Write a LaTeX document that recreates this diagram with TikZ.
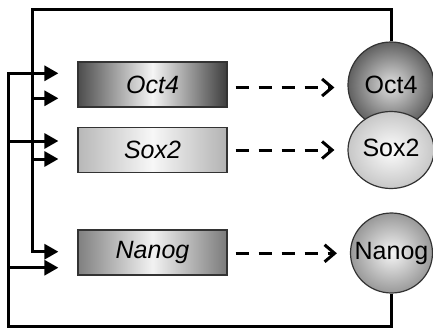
\documentclass[tikz,border=0pt]{standalone}
\usepackage{fontspec}
\setmainfont{Liberation Sans}
\usetikzlibrary{arrows.meta,shapes.geometric,calc}

\tikzset{
  genebox/.style={draw=black!80, line width=1.2pt, rectangle,
    minimum width=149pt, minimum height=45pt, inner sep=0pt,
    font=\fontsize{25}{28}\selectfont\itshape},
  protein/.style={draw=black!80, line width=1.2pt, ellipse, inner sep=0pt},
  plabel/.style={font=\fontsize{25}{28}\selectfont},
  feed/.style={line width=3pt, -{Triangle[length=14pt,width=15pt]}},
  flow/.style={line width=3pt, dash pattern=on 13pt off 10pt,
    -{Straight Barb[length=10pt,width=17pt]}, shorten <=8pt, shorten >=13pt},
}

\begin{document}
\begin{tikzpicture}[x=1pt,y=-1pt]
\useasboundingbox (0,0) rectangle (433,329);

% gene boxes (middle color must come last)
\node[genebox, left color=black!70, right color=black!76, middle color=black!4]
  (oct4b) at (152.5,84.5) {Oct4};
\node[genebox, left color=black!28, right color=black!30, middle color=black!3]
  (sox2b) at (152.5,150) {Sox2};
\node[genebox, left color=black!50, right color=black!52, middle color=black!5]
  (nanogb) at (152.5,252.5) {Nanog};

% proteins
\node[protein, minimum width=86pt, minimum height=86pt,
      inner color=black!12, outer color=black!62,
      label={[plabel]center:Oct4}] (oct4c) at (391,85) {};
\node[protein, minimum width=86pt, minimum height=77pt,
      inner color=black!1, outer color=black!22,
      label={[plabel,yshift=2pt]center:Sox2}] (sox2c) at (391,150) {};
\node[protein, minimum width=82pt, minimum height=80pt,
      inner color=black!4, outer color=black!40,
      label={[plabel]center:Nanog}] (nanogc) at (391.5,253) {};

% inlet points in front of the boxes
\coordinate (in1) at ($(oct4b.west)+(-19,-11.2)$);
\coordinate (in2) at ($(oct4b.west)+(-19,13.8)$);
\coordinate (in3) at ($(sox2b.west)+(-19,-9)$);
\coordinate (in4) at ($(sox2b.west)+(-19,9)$);
\coordinate (in5) at ($(nanogb.west)+(-19,-0.8)$);
\coordinate (in6) at ($(nanogb.west)+(-19,15.2)$);

\coordinate (topL) at (32,10);
\coordinate (botL) at (8,326);

% feedback loops
\draw[feed] (oct4c.north) |- (topL) |- (in5);
\draw[feed] (in2 -| topL) -- (in2);
\draw[feed] (in4 -| topL) -- (in4);

\draw[feed] (nanogc.south) |- (botL) |- (in1);
\draw[feed] (in3 -| botL) -- (in3);
\draw[feed] (in6 -| botL) -- (in6);

% translation arrows
\draw[flow] ($(oct4b.east)+(0,3)$) -- ($(oct4b.east -| oct4c.west)+(0,3)$);
\draw[flow] (sox2b.east) -- (sox2b.east -| sox2c.west);
\draw[flow] ($(nanogb.east)+(0,0.8)$) -- ($(nanogb.east -| nanogc.west)+(0,0.8)$);
\end{tikzpicture}
\end{document}
